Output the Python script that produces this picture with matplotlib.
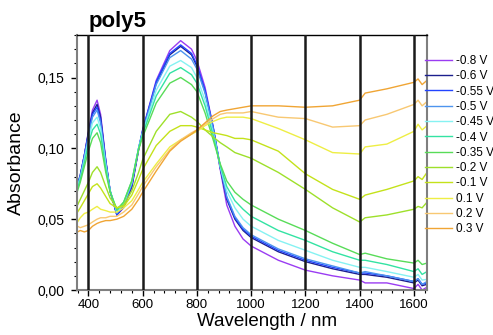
import matplotlib
matplotlib.use("Agg")
import matplotlib.pyplot as plt
from matplotlib.ticker import MultipleLocator, FuncFormatter

plt.rcParams['font.family'] = ['Liberation Sans', 'DejaVu Sans']

wavelength = [360, 370, 385, 400, 415, 432, 445, 464, 480, 505, 530, 560, 585, 600,
              650, 700, 740, 780, 800, 830, 860, 886, 910, 940, 970, 1000, 1100,
              1200, 1300, 1400, 1420, 1500, 1600, 1615, 1630, 1648]

labels = ['-0.8 V', '-0.6 V', '-0.55 V', '-0.5 V', '-0.45 V', '-0.4 V', '-0.35 V',
          '-0.2 V', '-0.1 V', '0.1 V', '0.2 V', '0.3 V']
colors = ['#9a3cf2', '#1c1f8e', '#2244ff', '#4d94ee', '#86f2f2', '#33e3a3', '#58dc58',
          '#9ee02a', '#c4e21a', '#eeee44', '#f8c872', '#f0a534']

a_m08 = [0.073, 0.080, 0.095, 0.112, 0.127, 0.134, 0.124, 0.092, 0.070, 0.053, 0.058, 0.072, 0.099, 0.113,
         0.148, 0.169, 0.176, 0.170, 0.162, 0.143, 0.115, 0.085, 0.060, 0.045, 0.036, 0.031, 0.021,
         0.014, 0.010, 0.007, 0.005, 0.005, 0.001, 0.004, 0.000, 0.002]
a_m06 = [0.074, 0.081, 0.095, 0.111, 0.125, 0.131, 0.122, 0.091, 0.070, 0.053, 0.059, 0.073, 0.099, 0.112,
         0.146, 0.166, 0.172, 0.166, 0.158, 0.140, 0.114, 0.086, 0.064, 0.050, 0.042, 0.037, 0.027,
         0.020, 0.015, 0.011, 0.011, 0.009, 0.005, 0.007, 0.003, 0.004]
a_m055 = [0.075, 0.081, 0.095, 0.110, 0.124, 0.129, 0.120, 0.091, 0.070, 0.053, 0.059, 0.074, 0.100, 0.113,
          0.147, 0.167, 0.173, 0.167, 0.159, 0.141, 0.115, 0.087, 0.065, 0.051, 0.043, 0.038, 0.028,
          0.021, 0.016, 0.012, 0.012, 0.010, 0.006, 0.008, 0.004, 0.005]
a_m05 = [0.074, 0.080, 0.094, 0.109, 0.122, 0.127, 0.118, 0.090, 0.070, 0.054, 0.060, 0.075, 0.100, 0.112,
         0.145, 0.164, 0.169, 0.163, 0.156, 0.139, 0.114, 0.087, 0.066, 0.052, 0.044, 0.039, 0.029,
         0.022, 0.017, 0.012, 0.013, 0.010, 0.006, 0.008, 0.004, 0.006]
a_m045 = [0.073, 0.079, 0.092, 0.106, 0.118, 0.122, 0.114, 0.088, 0.070, 0.055, 0.061, 0.076, 0.100, 0.111,
          0.141, 0.158, 0.162, 0.157, 0.150, 0.134, 0.111, 0.087, 0.070, 0.058, 0.050, 0.045, 0.035,
          0.028, 0.021, 0.016, 0.016, 0.013, 0.009, 0.011, 0.007, 0.0075]
a_m04 = [0.072, 0.078, 0.090, 0.103, 0.113, 0.117, 0.110, 0.086, 0.070, 0.056, 0.062, 0.077, 0.100, 0.110,
         0.137, 0.153, 0.157, 0.152, 0.146, 0.130, 0.109, 0.088, 0.073, 0.063, 0.057, 0.052, 0.042,
         0.035, 0.027, 0.021, 0.021, 0.018, 0.013, 0.015, 0.011, 0.013]
a_m035 = [0.070, 0.076, 0.087, 0.098, 0.107, 0.111, 0.104, 0.083, 0.069, 0.057, 0.062, 0.077, 0.099, 0.108,
          0.132, 0.146, 0.150, 0.145, 0.140, 0.125, 0.106, 0.089, 0.077, 0.069, 0.064, 0.060, 0.050,
          0.042, 0.033, 0.025, 0.026, 0.022, 0.019, 0.021, 0.018, 0.019]
a_m02 = [0.060, 0.064, 0.070, 0.076, 0.083, 0.087, 0.083, 0.073, 0.065, 0.058, 0.060, 0.070, 0.083, 0.092,
         0.112, 0.124, 0.126, 0.122, 0.119, 0.113, 0.108, 0.104, 0.101, 0.097, 0.095, 0.093, 0.083,
         0.071, 0.058, 0.048, 0.051, 0.053, 0.057, 0.059, 0.058, 0.062]
a_m01 = [0.055, 0.058, 0.063, 0.068, 0.073, 0.075, 0.072, 0.066, 0.061, 0.058, 0.059, 0.067, 0.078, 0.085,
         0.102, 0.112, 0.116, 0.116, 0.115, 0.113, 0.111, 0.110, 0.109, 0.107, 0.107, 0.106, 0.098,
         0.082, 0.071, 0.064, 0.067, 0.071, 0.077, 0.080, 0.078, 0.083]
a_p01 = [0.048, 0.051, 0.054, 0.055, 0.057, 0.059, 0.057, 0.056, 0.055, 0.055, 0.058, 0.063, 0.071, 0.076,
         0.089, 0.101, 0.106, 0.110, 0.112, 0.116, 0.119, 0.121, 0.122, 0.122, 0.122, 0.121, 0.114,
         0.106, 0.097, 0.096, 0.101, 0.103, 0.112, 0.117, 0.113, 0.116]
a_p02 = [0.045, 0.044, 0.045, 0.046, 0.048, 0.050, 0.051, 0.051, 0.052, 0.052, 0.055, 0.060, 0.068, 0.073,
         0.087, 0.099, 0.106, 0.111, 0.113, 0.117, 0.121, 0.124, 0.125, 0.125, 0.125, 0.126, 0.122,
         0.121, 0.115, 0.116, 0.120, 0.124, 0.131, 0.134, 0.130, 0.133]
a_p03 = [0.041, 0.042, 0.041, 0.042, 0.045, 0.047, 0.048, 0.049, 0.049, 0.050, 0.052, 0.057, 0.064, 0.069,
         0.084, 0.098, 0.105, 0.110, 0.113, 0.118, 0.123, 0.126, 0.127, 0.128, 0.129, 0.130, 0.130,
         0.129, 0.130, 0.134, 0.139, 0.142, 0.1466, 0.149, 0.145, 0.148]

series = [a_m08, a_m06, a_m055, a_m05, a_m045, a_m04, a_m035, a_m02, a_m01, a_p01, a_p02, a_p03]
marker_lines = [400, 600, 800, 1000, 1200, 1400, 1600]

fig = plt.figure(figsize=(4.93, 3.35), dpi=100)
ax = fig.add_axes([77/493, 45/335, 350/493, 255/335])

for y, c, lab in zip(series, colors, labels):
    ax.plot(wavelength, y, color=c, lw=1.0, label=lab)

for xv in marker_lines:
    ax.axvline(xv, color='#1a1a1a', lw=1.8, zorder=5)

ax.set_xlim(358, 1648)
ax.set_ylim(0, 0.18)
ax.xaxis.set_major_locator(MultipleLocator(200))
ax.xaxis.set_minor_locator(MultipleLocator(40))
ax.yaxis.set_major_locator(MultipleLocator(0.05))
ax.yaxis.set_minor_locator(MultipleLocator(0.01))
ax.yaxis.set_major_formatter(FuncFormatter(lambda v, p: f"{v:.2f}".replace('.', ',')))
ax.tick_params(which='major', direction='out', length=4, width=1, labelsize=9.5, pad=2.5)
ax.tick_params(which='minor', direction='out', length=2, width=0.8)
ax.tick_params(axis='y', which='major', pad=5, labelsize=10)
ax.tick_params(top=False, right=False, which='both')

for s in ['left', 'bottom', 'right']:
    ax.spines[s].set_color('#7f7f7f')
    ax.spines[s].set_linewidth(1.5)
ax.spines['top'].set_color('black')
ax.spines['top'].set_linewidth(1.0)

ax.set_xlabel('Wavelength / nm', fontsize=13.5)
ax.set_ylabel('Absorbance', fontsize=14)
ax.xaxis.set_label_coords(0.544, -0.09)
ax.yaxis.set_label_coords(-0.15, 0.5)

fig.text(89/493, (335-27)/335, 'poly5', fontsize=16, fontweight='bold', ha='left', va='baseline')

leg = ax.legend(loc='upper left', bbox_to_anchor=(425/493, (335-55)/335),
                bbox_transform=fig.transFigure, frameon=False, fontsize=8.5,
                handlelength=2.3, handletextpad=0.3, labelspacing=0.28,
                borderpad=0, borderaxespad=0)

fig.savefig('out.png', dpi=100)
